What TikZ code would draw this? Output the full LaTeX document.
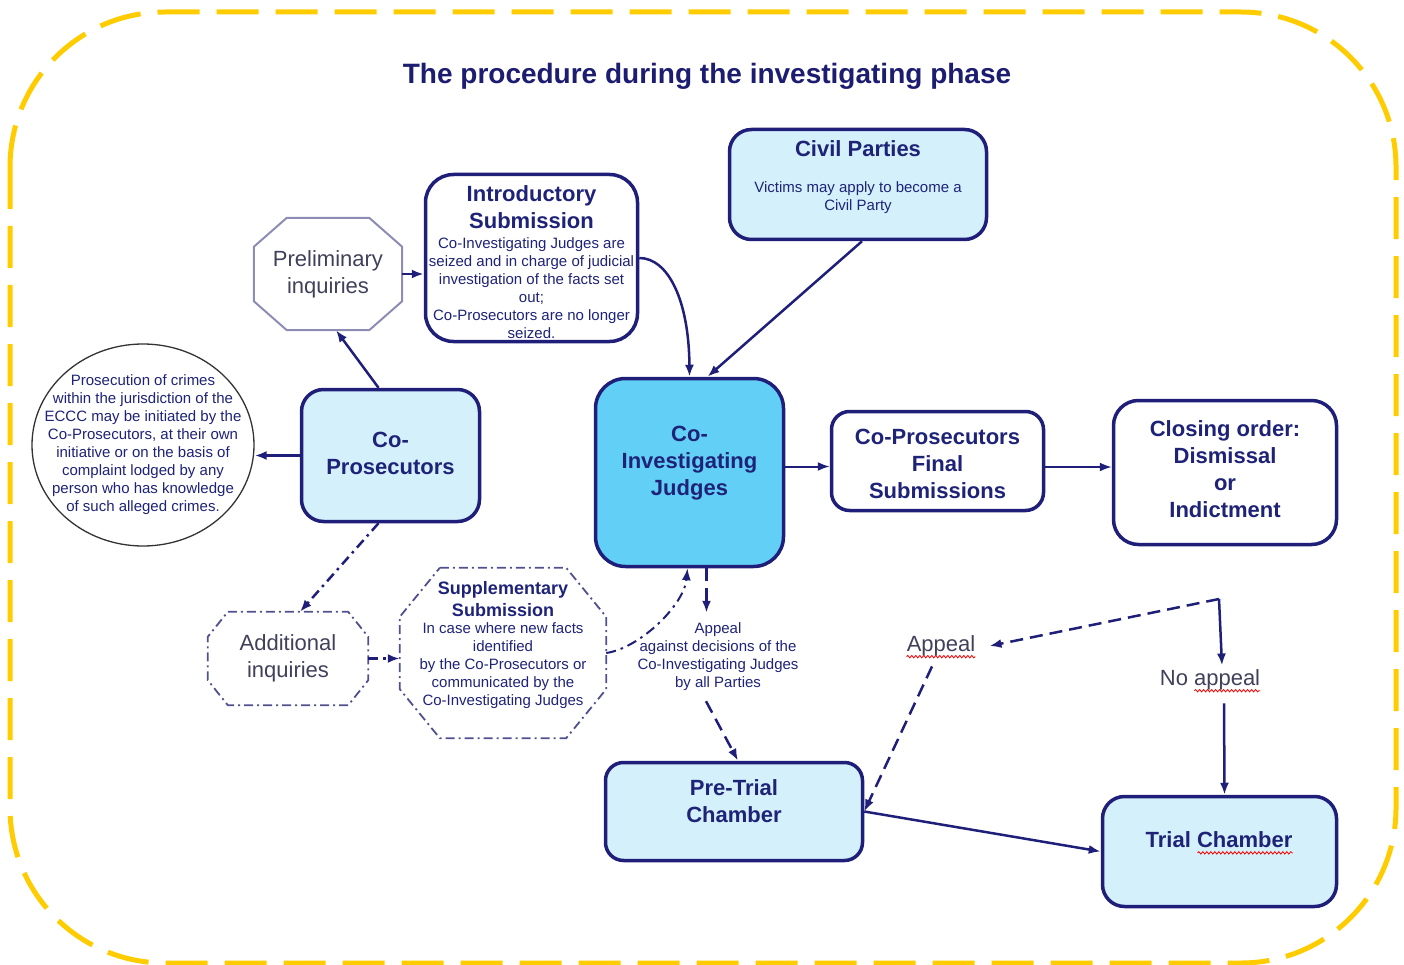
\documentclass[tikz,border=0pt]{standalone}
\usepackage{fontspec}
\setmainfont{Liberation Sans}
\usetikzlibrary{arrows.meta,calc,shapes.geometric,decorations.pathmorphing}
\definecolor{navy}{HTML}{1F1F7A}
\definecolor{txtnavy}{HTML}{1E2378}
\definecolor{titlenavy}{HTML}{1C1C70}
\definecolor{lightfill}{HTML}{D4F0FB}
\definecolor{brightfill}{HTML}{62CFF6}
\definecolor{octgray}{HTML}{8C8CB4}
\definecolor{octtext}{HTML}{40405A}
\definecolor{gold}{HTML}{FFCC00}
\definecolor{dashnavy}{HTML}{50508E}
\newcommand\octo[4]{%
  \draw[#4] ($(#1.north west)+(#2,0)$) -- ($(#1.north east)+(-#2,0)$)
    -- ($(#1.north east)+(0,#3)$) -- ($(#1.south east)+(0,-#3)$)
    -- ($(#1.south east)+(-#2,0)$) -- ($(#1.south west)+(#2,0)$)
    -- ($(#1.south west)+(0,-#3)$) -- ($(#1.north west)+(0,#3)$) -- cycle;}
\tikzset{
  box/.style={draw=navy, line width=3.5pt, inner sep=0pt},
  lbl/.style={text=txtnavy, font=\fontsize{22}{27}\selectfont\bfseries, align=center},
  small/.style={text=txtnavy, font=\fontsize{15}{18}\selectfont, align=center},
  octlbl/.style={text=octtext, font=\fontsize{22}{27}\selectfont, align=center, inner sep=0pt},
  arr/.style={draw=navy, line width=2.5pt, -{Latex[length=12pt,width=9pt]}},
  dasharr/.style={arr, dash pattern=on 13pt off 7pt},
  dotarr/.style={arr, dash pattern=on 10pt off 5pt on 2.5pt off 5pt},
  octsolid/.style={draw=octgray, line width=2pt},
  octdash/.style={draw=dashnavy, line width=1.8pt, dash pattern=on 9pt off 4pt on 2pt off 4pt},
  squig/.style={draw=red, line width=0.8pt, decorate, decoration={snake, amplitude=1.2pt, segment length=4pt}},
}
\begin{document}
\begin{tikzpicture}[x=1pt, y=-1pt]
\useasboundingbox (0,0) rectangle (1404,965);
\draw[gold, line width=5pt, dash pattern=on 42pt off 17pt, rounded corners=155pt] (10,12) rectangle (1396,963);

\node[font=\fontsize{28}{34}\selectfont\bfseries, text=titlenavy] (title) at (707,76) {The procedure during the investigating phase};

% boxes
\node[box, fill=white, rounded corners=28pt, minimum width=212pt, minimum height=167pt] (intro) at (531.5,258) {};
\node[lbl] (introT) at (531.5,207) {Introductory\\Submission};
\node[small] (introB) at (531.5,288) {Co-Investigating Judges are\\seized and in charge of judicial\\investigation of the facts set\\out;\\Co-Prosecutors are no longer\\seized.};

\node[box, fill=lightfill, rounded corners=22pt, minimum width=257pt, minimum height=110pt] (civil) at (858,184.5) {};
\node[lbl] (civilT) at (858,149) {Civil Parties};
\node[small] (civilB) at (858,198) {Victims may apply to become a\\Civil Party};

\node[box, fill=lightfill, rounded corners=22pt, minimum width=178pt, minimum height=132pt] (copros) at (390.5,455.5) {};
\node[lbl] (coprosT) at (390.5,453) {Co-\\Prosecutors};

\node[box, fill=brightfill, rounded corners=30pt, minimum width=188pt, minimum height=188pt] (cij) at (689.5,472.5) {};
\node[lbl] (cijT) at (689.5,463) {Co-\\Investigating\\Judges};

\node[box, fill=white, rounded corners=18pt, minimum width=212pt, minimum height=99pt] (final) at (937.5,461) {};
\node[lbl] (finalT) at (937.5,464) {Co-Prosecutors\\Final\\Submissions};

\node[box, fill=white, rounded corners=25pt, minimum width=223pt, minimum height=144pt] (closing) at (1225,472.5) {};
\node[lbl] (closingT) at (1225,469) {Closing order:\\Dismissal\\or\\Indictment};

\node[box, fill=lightfill, rounded corners=18pt, minimum width=257pt, minimum height=98pt] (pretrial) at (734,811.5) {};
\node[lbl] (pretrialT) at (734,801.5) {Pre-Trial\\Chamber};

\node[box, fill=lightfill, rounded corners=22pt, minimum width=234pt, minimum height=110pt] (trial) at (1219.5,851.5) {};
\node[lbl, inner sep=0pt] (trialT) at (1219,840) {Trial Chamber};
\draw[squig] ($(trialT.base east)+(-95,5)$) -- ($(trialT.base east)+(0,5)$);

% ellipse
\node[draw=black!80, line width=1.3pt, fill=white, ellipse, inner sep=0pt, minimum width=222pt, minimum height=202pt] (circ) at (143,445) {};
\node[small] (circT) at (143,445) {Prosecution of crimes\\within the jurisdiction of the\\ECCC may be initiated by the\\Co-Prosecutors, at their own\\initiative or on the basis of\\complaint lodged by any\\person who has knowledge\\of such alleged crimes.};

% octagons
\node[octlbl, minimum width=148pt, minimum height=112pt] (prelim) at (328,274) {Preliminary\\inquiries};
\octo{prelim}{33}{29}{octsolid}

\node[octlbl, minimum width=160pt, minimum height=93pt] (addl) at (288,658.5) {Additional\\inquiries};
\octo{addl}{20}{25}{octdash}

\node[inner sep=0pt, minimum width=206pt, minimum height=170pt] (supp) at (503,653) {};
\octo{supp}{40}{49}{octdash}
\node[text=txtnavy, font=\fontsize{18}{22}\selectfont\bfseries, align=center] (suppT) at (503,599) {Supplementary\\Submission};
\node[small] (suppB) at (503,666) {In case where new facts\\identified\\by the Co-Prosecutors or\\communicated by the\\Co-Investigating Judges};

% free labels
\node[small, inner xsep=4pt, inner ysep=10pt] (appT) at (718,657) {Appeal\\against decisions of the\\Co-Investigating Judges\\by all Parties};
\node[text=octtext, font=\fontsize{22}{27}\selectfont, inner xsep=14pt, inner ysep=8pt] (appealLbl) at (941,646) {Appeal};
\draw[squig] ($(appealLbl.base west)+(14,5)$) -- ($(appealLbl.base east)+(-14,5)$);
\node[text=octtext, font=\fontsize{22}{27}\selectfont, inner xsep=4pt, inner ysep=4pt] (noappLbl) at (1210,680) {No appeal};
\draw[squig] ($(noappLbl.base east)+(-70,5)$) -- ($(noappLbl.base east)+(-4,5)$);
\coordinate (split) at (1219,599);
\coordinate (cijS) at ($(cij.south)+(17,0)$);
\coordinate (cijE) at ($(cij.east)+(0,-6)$);
\coordinate (finalE) at ($(final.east)+(0,6)$);

% connectors
\draw[arr] ($(copros.north)+(-12,0)$) -- ($(prelim.south)+(8,0)$);
\draw[arr] (prelim.east) -- (prelim.east -| intro.west);
\draw[arr] (intro.east) .. controls (668,258) and (689,300) .. (cij.north);
\draw[arr] ($(civil.south)+(4,0)$) -- ($(cij.north)+(18,0)$);
\draw[arr] (copros.west) -- (copros.west -| circ.east);
\draw[arr, line width=2pt] (cijE) -- (cijE -| final.west);
\draw[arr, line width=2pt] (finalE) -- (finalE -| closing.west);
\draw[dotarr] ($(copros.south)+(-12,0)$) -- ($(addl.north)+(12,0)$);
\draw[dotarr] (addl.east) -- (addl.east -| supp.west);
\draw[dotarr, line width=2pt] (supp.east) .. controls (640,648) and (684,605) .. ($(cij.south)+(-2,0)$);
\draw[dasharr] (cijS) -- (cijS |- appT.north);
\draw[dasharr] ($(appT.south)+(-12,0)$) -- ($(pretrial.north)+(4,0)$);
\draw[arr] (pretrial.east) -- (trial.west);
\draw[dasharr] (split) -- (appealLbl.east);
\draw[dasharr] ($(appealLbl.south)+(-9,2)$) -- (pretrial.east);
\draw[arr] (split) -- ($(noappLbl.north)+(12,0)$);
\draw[arr] ($(noappLbl.south)+(14,9)$) -- ($(trial.north)+(5,0)$);
\end{tikzpicture}
\end{document}
